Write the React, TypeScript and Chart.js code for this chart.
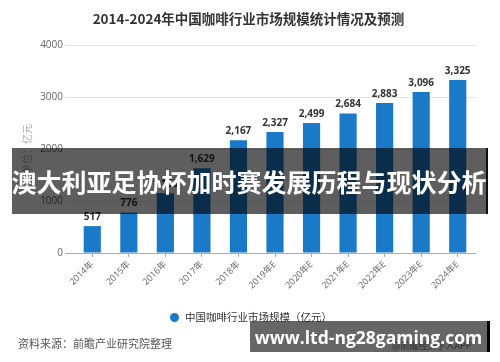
import React, { useEffect, useRef } from "react";
import { Chart, registerables } from "chart.js";

Chart.register(...registerables);

const categories = ["2014年", "2015年", "2016年", "2017年", "2018年", "2019年E", "2020年E", "2021年E", "2022年E", "2023年E", "2024年E"];
const marketSize = [517, 776, 1150, 1629, 2167, 2327, 2499, 2684, 2883, 3096, 3325];
const yTicks = [0, 1000, 2000, 3000, 4000];
const chartTitle = "2014-2024年中国咖啡行业市场规模统计情况及预测";
const seriesName = "中国咖啡行业市场规模（亿元）";
const yAxisTitle = "单位：亿元";
const sourceNote = "资料来源：前瞻产业研究院整理";
const bannerText = "澳大利亚足协杯加时赛发展历程与现状分析";
const urlText = "www.ltd-ng28gaming.com";
const creditText = "@前瞻经济学人APP";

const BAR_COLOR = "#1a7ac8";
const FONT = '"Open Sans", "Noto Sans CJK SC", sans-serif';
const CJK = '"Noto Sans CJK SC", sans-serif';

const valueLabels = {
  id: "valueLabels",
  afterDatasetsDraw(chart: any) {
    const ctx = chart.ctx;
    const meta = chart.getDatasetMeta(0);
    const data = chart.data.datasets[0].data as number[];
    ctx.save();
    ctx.font = `bold 10px ${FONT}`;
    ctx.fillStyle = "#333";
    ctx.textAlign = "center";
    ctx.textBaseline = "bottom";
    meta.data.forEach((bar: any, i: number) => {
      ctx.fillText(data[i].toLocaleString("en-US"), bar.x, bar.y - 4);
    });
    ctx.restore();
  },
};

export default function App() {
  const ref = useRef<HTMLCanvasElement | null>(null);
  useEffect(() => {
    if (!ref.current) return;
    const chart = new Chart(ref.current, {
      type: "bar",
      data: {
        labels: categories,
        datasets: [
          {
            label: seriesName,
            data: marketSize,
            backgroundColor: BAR_COLOR,
            barPercentage: 0.47,
            categoryPercentage: 1,
          },
        ],
      },
      options: {
        responsive: false,
        animation: false,
        layout: { padding: { left: 0, right: 24, top: 45, bottom: 60 } },
        plugins: {
          title: { display: false },
          legend: { display: false },
          tooltip: { enabled: false },
        },
        scales: {
          x: {
            grid: { display: true, drawOnChartArea: false, drawTicks: true, tickLength: 4, offset: false, color: "#aaa" },
            border: { display: false },
            ticks: { color: "#666", font: { family: FONT, size: 9 }, minRotation: 45, maxRotation: 45, padding: 2 },
            afterFit(scale: any) {
              scale.height = 49;
            },
          },
          y: {
            min: 0,
            max: 4000,
            afterBuildTicks(scale: any) {
              scale.ticks = yTicks.map((v) => ({ value: v }));
            },
            grid: {
              color: (c: any) => (c.tick && c.tick.value === 0 ? "#aaa" : "#e4e4e4"),
              drawTicks: true,
              tickLength: 9,
            },
            border: { display: false },
            ticks: {
              color: "#666",
              font: { family: FONT, size: 10 },
              padding: 2,
              callback: (v: any) => String(v),
            },
            title: {
              display: true,
              text: yAxisTitle,
              color: "#aaa",
              font: { family: CJK, size: 10 },
              padding: { top: 21, bottom: 0 },
            },
            afterFit(scale: any) {
              scale.width = 74;
            },
          },
        },
      },
      plugins: [valueLabels],
    });
    return () => chart.destroy();
  }, []);

  return (
    <div style={{ position: "fixed", left: 0, top: 0, width: 500, height: 362, background: "#fff", overflow: "hidden" }}>
      <canvas ref={ref} width={500} height={362} style={{ position: "absolute", left: 0, top: 0, width: 500, height: 362 }} />
      <div
        style={{
          position: "absolute",
          left: 0,
          top: 9,
          width: 497,
          textAlign: "center",
          fontFamily: CJK,
          fontSize: 13.5,
          fontWeight: "bold",
          color: "#333",
          whiteSpace: "nowrap",
          lineHeight: "18px",
        }}
      >
        {chartTitle}
      </div>
      <div style={{ position: "absolute", left: 170, top: 309, display: "flex", alignItems: "center", height: 16, whiteSpace: "nowrap" }}>
        <span style={{ display: "inline-block", width: 9, height: 9, borderRadius: "50%", background: BAR_COLOR, marginRight: 6 }} />
        <span style={{ fontFamily: CJK, fontSize: 10.5, color: "#333", lineHeight: "16px" }}>{seriesName}</span>
      </div>
      <div style={{ position: "absolute", left: 18, top: 335, fontFamily: CJK, fontSize: 11, color: "#555", whiteSpace: "nowrap", lineHeight: "16px" }}>
        {sourceNote}
      </div>
      <div style={{ position: "absolute", left: 392, top: 339, fontFamily: CJK, fontSize: 9, color: "#777", whiteSpace: "nowrap", lineHeight: "14px" }}>
        {creditText}
      </div>
      <div
        style={{
          position: "absolute",
          left: 12,
          top: 148,
          width: 474,
          height: 66,
          background: "rgba(0,0,0,0.63)",
          borderRight: "2px solid #111",
          display: "flex",
          alignItems: "center",
          justifyContent: "center",
          color: "#fff",
          fontFamily: CJK,
          fontWeight: "bold",
          fontSize: 25,
          whiteSpace: "nowrap",
        }}
      >
        {bannerText}
      </div>
      <div
        style={{
          position: "absolute",
          left: 250,
          top: 321,
          width: 237,
          height: 31,
          background: "rgba(0,0,0,0.6)",
          borderRight: "3px solid #000",
          display: "flex",
          alignItems: "center",
          justifyContent: "center",
          color: "#fff",
          fontFamily: '"Open Sans", sans-serif',
          fontWeight: "bold",
          fontSize: 17.5,
          whiteSpace: "nowrap",
        }}
      >
        {urlText}
      </div>
    </div>
  );
}
